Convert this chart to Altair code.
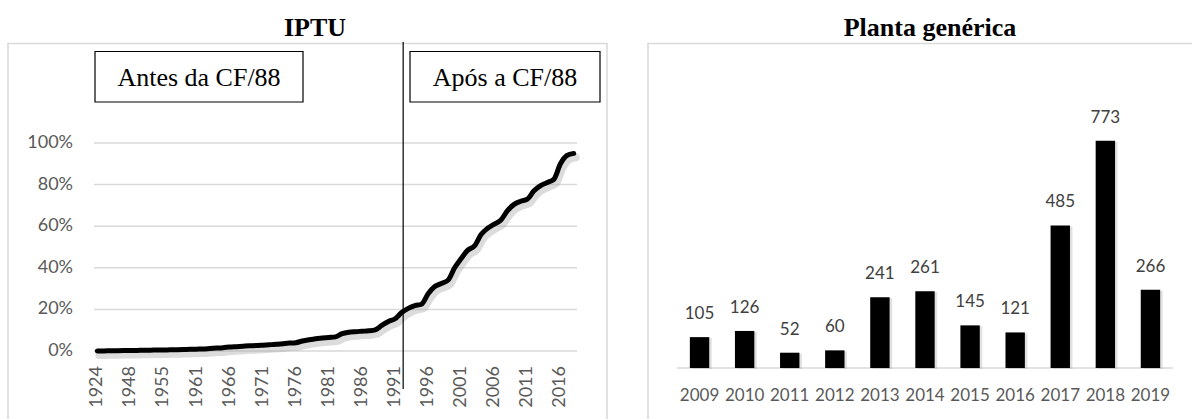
import altair as alt
import pandas as pd

# ---------------- data ----------------
iptu_years = ["1924", "1930", "1936", "1940", "1945",
              "1948", "1950", "1951", "1952", "1954",
              "1955", "1956", "1957", "1958", "1960"] + [str(y) for y in range(1961, 2019)]
iptu_pct = [0.0, 0.05, 0.1, 0.15, 0.2,
            0.25, 0.3, 0.35, 0.4, 0.45,
            0.5, 0.55, 0.6, 0.7, 0.8,
            0.9, 1.0, 1.2, 1.4, 1.6,
            1.9, 2.1, 2.3, 2.5, 2.6,
            2.8, 3.0, 3.2, 3.5, 3.8,
            4.0, 4.8, 5.4, 5.9, 6.2,
            6.5, 6.8, 8.3, 9.0, 9.3,
            9.5, 9.7, 10.2, 12.3, 14.2,
            15.5, 18.5, 20.5, 21.8, 22.5,
            27.5, 31.0, 32.5, 34.0, 40.0,
            44.5, 48.5, 50.5, 56.0, 59.0,
            61.0, 63.0, 67.5, 70.5, 72.0,
            73.0, 77.0, 79.5, 81.0, 82.5,
            90.0, 94.0, 95.0]
iptu_ticks = [0, 20, 40, 60, 80, 100]
iptu_tick_labels = ["0%", "20%", "40%", "60%", "80%", "100%"]
iptu_x_labels = iptu_years[::5]
cf_marker_year = ["1992"]

bar_years = ["2009", "2010", "2011", "2012", "2013", "2014", "2015", "2016", "2017", "2018", "2019"]
bar_values = [105, 126, 52, 60, 241, 261, 145, 121, 485, 773, 266]

# ---------------- tables ----------------
df_line = pd.DataFrame({"ano": iptu_years, "pct": iptu_pct})
df_grid = pd.DataFrame({"t": iptu_ticks, "lab": iptu_tick_labels})
df_xlab = pd.DataFrame({"ano": iptu_x_labels})
df_cf = pd.DataFrame({"ano": cf_marker_year})
df_bar = pd.DataFrame({"ano": bar_years, "v": bar_values})
one = pd.DataFrame({"k": [0]})

LABEL_FONT = "Lato"
SERIF = "Liberation Serif"
GRAY = "#595959"
GRID = "#d9d9d9"

# ---------------- scales ----------------
lx = alt.Scale(type="point", domain=iptu_years, range=[94, 577], padding=0.5)
ly = alt.Scale(domain=[0, 100], range=[351, 143], nice=False, zero=False)
rx = alt.Scale(type="band", domain=bar_years, range=[677, 1173], paddingInner=0.57, paddingOuter=0.285)
ry = alt.Scale(domain=[0, 900], range=[368, 103.4], nice=False)

# ---------------- decoration ----------------
def box(x1, x2, y1, y2, stroke, width, fill="white"):
    return alt.Chart(one).mark_rect(stroke=stroke, strokeWidth=width, fill=fill).encode(
        x=alt.value(x1), x2=alt.value(x2), y=alt.value(y1), y2=alt.value(y2))

def label(txt, x, y, size, font, bold=False, color="black", align="center", baseline="alphabetic"):
    return alt.Chart(one).mark_text(font=font, fontSize=size, fontWeight="bold" if bold else "normal",
                                    color=color, align=align, baseline=baseline).encode(
        x=alt.value(x), y=alt.value(y), text=alt.value(txt))

deco = alt.layer(
    box(8, 607, 43.5, 440, GRID, 1.5),
    box(648, 1210, 43.5, 440, GRID, 1.5),
    label("IPTU", 315, 36, 26, SERIF, bold=True),
    label("Planta genérica", 930, 36, 26, SERIF, bold=True),
    box(95, 303, 51.5, 102, "black", 1.2),
    box(410, 600, 51.5, 102, "black", 1.2),
    label("Antes da CF/88", 199, 86, 26, SERIF),
    label("Após a CF/88", 505, 86, 26, SERIF),
)

# ---------------- left: IPTU ----------------
grid = alt.Chart(df_grid).mark_rule(color=GRID, strokeWidth=1.5).encode(
    y=alt.Y("t:Q", scale=ly, axis=None), x=alt.value(94), x2=alt.value(577))
ylabels = alt.Chart(df_grid).mark_text(font=LABEL_FONT, fontSize=18, color=GRAY, align="right",
                                       baseline="middle").encode(
    y=alt.Y("t:Q", scale=ly, axis=None), x=alt.value(73), text="lab:N")
xlabels = alt.Chart(df_xlab).mark_text(font=LABEL_FONT, fontSize=18, color=GRAY, align="right",
                                       baseline="middle", angle=270).encode(
    x=alt.X("ano:O", scale=lx, axis=None), y=alt.value(366), text="ano:N")
shadow = alt.Chart(df_line).mark_line(color="#9a9a9a", opacity=0.35, strokeWidth=8, interpolate="monotone",
                                      xOffset=2, yOffset=4, strokeCap="round", strokeJoin="round").encode(
    x=alt.X("ano:O", scale=lx, axis=None), y=alt.Y("pct:Q", scale=ly, axis=None))
line = alt.Chart(df_line).mark_line(color="black", strokeWidth=5, interpolate="monotone",
                                    strokeCap="round", strokeJoin="round").encode(
    x=alt.X("ano:O", scale=lx, axis=None), y=alt.Y("pct:Q", scale=ly, axis=None))
vline = alt.Chart(df_cf).mark_rule(color="black", strokeWidth=1.2, xOffset=1.5).encode(
    x=alt.X("ano:O", scale=lx, axis=None), y=alt.value(42), y2=alt.value(389))

left = alt.layer(grid, ylabels, xlabels, shadow, line, vline)

# ---------------- right: Planta genérica ----------------
baseline_rule = alt.Chart(one).mark_rule(color=GRID, strokeWidth=1.5).encode(
    x=alt.value(677), x2=alt.value(1173), y=alt.value(368))
bar_shadow = alt.Chart(df_bar).mark_bar(color="#9a9a9a", opacity=0.3, xOffset=2.5, yOffset=1).encode(
    x=alt.X("ano:O", scale=rx, axis=None), y=alt.Y("v:Q", scale=ry, axis=None))
bars = alt.Chart(df_bar).mark_bar(color="black").encode(
    x=alt.X("ano:O", scale=rx, axis=None), y=alt.Y("v:Q", scale=ry, axis=None))
vals = alt.Chart(df_bar).mark_text(font=LABEL_FONT, fontSize=17, color="#404040", baseline="middle",
                                   dy=-23).encode(
    x=alt.X("ano:O", scale=rx, axis=None), y=alt.Y("v:Q", scale=ry, axis=None), text="v:Q")
xl2 = alt.Chart(df_bar).mark_text(font=LABEL_FONT, fontSize=17, color=GRAY, baseline="middle").encode(
    x=alt.X("ano:O", scale=rx, axis=None), y=alt.value(396), text="ano:N")

right = alt.layer(baseline_rule, bar_shadow, bars, vals, xl2)

chart = alt.layer(deco, left, right).resolve_scale(x="independent", y="independent").properties(
    width=1192, height=419, autosize=alt.AutoSizeParams(type="none"), padding=0,
    background="white").configure_view(stroke=None)

chart.save("out.html", embed_options={"renderer": "svg", "actions": False})
